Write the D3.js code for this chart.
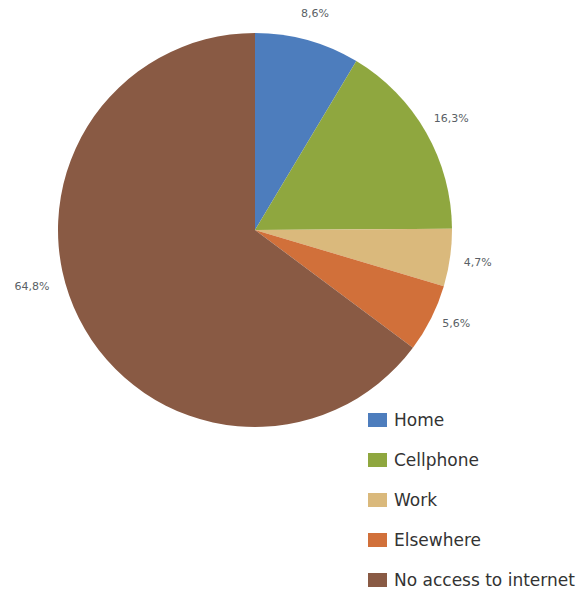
<!DOCTYPE html>
<html>
<head>
<meta charset="utf-8">
<script src="https://cdn.jsdelivr.net/npm/d3@7"></script>
<style>
  body { margin: 0; background: #fff; }
  svg { font-family: "DejaVu Sans", sans-serif; }
</style>
</head>
<body>
<div id="chart"></div>
<script>
// shares of internet access location
const categories = ["Home", "Cellphone", "Work", "Elsewhere", "No access to internet"];
const values = [8.6, 16.3, 4.7, 5.6, 64.8];
const labels = ["8,6%", "16,3%", "4,7%", "5,6%", "64,8%"];
const colors = ["#4d7dbd", "#8fa73f", "#dab97c", "#d1703a", "#895a44"];

const width = 581, height = 590;
const cx = 255, cy = 230, radius = 197;

const svg = d3.select("#chart").append("svg")
    .attr("width", width)
    .attr("height", height);

const g = svg.append("g").attr("transform", "translate(" + cx + "," + cy + ")");

const pie = d3.pie().sort(null).value(d => d);
const arcs = pie(values);

const arc = d3.arc().innerRadius(0).outerRadius(radius);

g.selectAll("path")
    .data(arcs)
    .enter()
    .append("path")
      .attr("d", arc)
      .attr("fill", (d, i) => colors[i]);

// labels sit a bit outside the pie, the big one nudged down like the original
const angleShift = [0, 0, 0, -0.03, 0.22];
const labelR = [225, 226, 225, 222, 230];
g.selectAll(".lbl")
    .data(arcs)
    .enter()
    .append("text")
      .attr("class", "lbl")
      .attr("x", (d, i) => labelR[i] * Math.sin((d.startAngle + d.endAngle) / 2 + angleShift[i]))
      .attr("y", (d, i) => -labelR[i] * Math.cos((d.startAngle + d.endAngle) / 2 + angleShift[i]))
      .attr("dy", "0.35em")
      .attr("text-anchor", "middle")
      .style("font-size", "11px")
      .style("fill", "#5a5f66")
      .text((d, i) => labels[i]);

// legend
const legend = svg.append("g").attr("transform", "translate(368,413)");
const ly = d3.scalePoint().domain(categories).range([0, 160]);

const item = legend.selectAll(".item")
    .data(categories)
    .enter()
    .append("g")
      .attr("class", "item")
      .attr("transform", d => "translate(0," + ly(d) + ")");

item.append("rect")
    .attr("width", 19)
    .attr("height", 14)
    .attr("fill", (d, i) => colors[i]);

item.append("text")
    .attr("x", 26)
    .attr("y", 7)
    .attr("dy", "0.36em")
    .style("font-size", "17px")
    .style("fill", "#333")
    .text(d => d);
</script>
</body>
</html>
